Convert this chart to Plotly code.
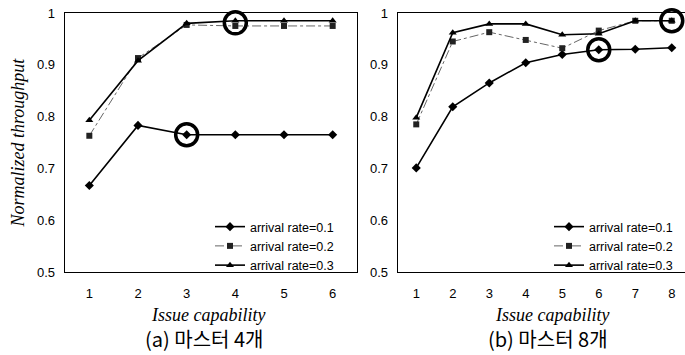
import plotly.graph_objects as go

# ---- data ----
issue_a = [1, 2, 3, 4, 5, 6]
a_rate01 = [0.667, 0.783, 0.765, 0.765, 0.765, 0.765]
a_rate02 = [0.763, 0.913, 0.977, 0.975, 0.975, 0.975]
a_rate03 = [0.793, 0.908, 0.980, 0.985, 0.985, 0.985]
a_circle_x = [3, 4]
a_circle_y = [0.765, 0.981]

issue_b = [1, 2, 3, 4, 5, 6, 7, 8]
b_rate01 = [0.701, 0.819, 0.865, 0.904, 0.920, 0.929, 0.930, 0.933]
b_rate02 = [0.785, 0.945, 0.963, 0.948, 0.932, 0.966, 0.985, 0.985]
b_rate03 = [0.798, 0.962, 0.979, 0.979, 0.958, 0.960, 0.985, 0.985]
b_circle_x = [6, 8]
b_circle_y = [0.929, 0.985]

series_names = ["arrival rate=0.1", "arrival rate=0.2", "arrival rate=0.3"]
y_ticks = [0.5, 0.6, 0.7, 0.8, 0.9, 1]
y_tick_text = ["0.5", "0.6", "0.7", "0.8", "0.9", "1"]

W, H = 685, 355


def px(x):
    return x / W


def py(y):
    return (H - y) / H


styles = [
    dict(symbol="diamond", size=7, color="black", line=dict(color="black", width=1.6, dash="solid")),
    dict(symbol="square", size=6, color="#222", line=dict(color="#666", width=1, dash="dashdot")),
    dict(symbol="triangle-up", size=7, color="black", line=dict(color="black", width=1.6, dash="solid")),
]

fig = go.Figure()


def add_panel(xs, ys_list, cx, cy, xa, ya, legend):
    for name, ys, st in zip(series_names, ys_list, styles):
        fig.add_trace(go.Scatter(
            x=xs, y=ys, mode="lines+markers", name=name,
            line=st["line"],
            marker=dict(symbol=st["symbol"], size=st["size"], color=st["color"]),
            xaxis=xa, yaxis=ya, legend=legend, hoverinfo="skip",
        ))
    fig.add_trace(go.Scatter(
        x=cx, y=cy, mode="markers", showlegend=False, cliponaxis=False, hoverinfo="skip",
        marker=dict(symbol="circle-open", size=22, color="black", line=dict(width=3.5, color="black")),
        xaxis=xa, yaxis=ya,
    ))


add_panel(issue_a, [a_rate01, a_rate02, a_rate03], a_circle_x, a_circle_y, "x", "y", "legend")
add_panel(issue_b, [b_rate01, b_rate02, b_rate03], b_circle_x, b_circle_y, "x2", "y2", "legend2")

ydom = [py(272), py(13)]
tickfont = dict(family="Liberation Sans, Arial", size=13, color="black")
common_y = dict(range=[0.5, 1.0], tickvals=y_ticks, ticktext=y_tick_text, showgrid=False,
                zeroline=False, showline=True, linecolor="black", linewidth=1.3,
                ticks="", tickfont=tickfont, ticklabelstandoff=6, ticklabeloverflow="allow",
                automargin=False, domain=ydom)
common_x = dict(showgrid=False, zeroline=False, showline=True, linecolor="black", linewidth=1.3,
                ticks="", tickfont=tickfont, ticklabelstandoff=9, automargin=False)

legend_common = dict(font=dict(family="Liberation Sans, Arial", size=12.5, color="black"),
                     bgcolor="rgba(0,0,0,0)", borderwidth=0, tracegroupgap=0,
                     xanchor="left", yanchor="middle", itemwidth=30)

right_span = 36.5  # px per unit on the right panel
x2_max = 0.5 + (W - 398) / right_span

title_font = dict(family="Liberation Serif, serif", size=18, color="black", style="italic")
cap_font = dict(family="Noto Sans CJK KR", size=20, color="black")

fig.update_layout(
    width=W, height=H,
    margin=dict(l=0, r=0, t=0, b=0, autoexpand=False),
    paper_bgcolor="white", plot_bgcolor="white",
    hovermode=False,
    xaxis=dict(**common_x, range=[0.5, 6.5], tickvals=issue_a, domain=[px(65), px(357)], mirror=True),
    yaxis=dict(**common_y, mirror=True),
    xaxis2=dict(**common_x, range=[0.5, x2_max], tickvals=issue_b, domain=[px(398), 1.0], mirror=True, anchor="y2"),
    yaxis2=dict(**common_y, anchor="x2"),
    legend=dict(**legend_common, x=px(210), y=py(246)),
    legend2=dict(**legend_common, x=px(549), y=py(246)),
    annotations=[
        dict(text="Normalized throughput", x=px(17.5), y=py(143), xref="paper", yref="paper",
             xanchor="center", yanchor="middle", textangle=-90, showarrow=False,
             font=dict(family="Liberation Serif, serif", size=18, color="black", style="italic")),
        dict(text="Issue capability", x=px(208), y=py(315), xref="paper", yref="paper",
             xanchor="center", yanchor="middle", showarrow=False, font=title_font),
        dict(text="Issue capability", x=px(552), y=py(315), xref="paper", yref="paper",
             xanchor="center", yanchor="middle", showarrow=False, font=title_font),
        dict(text="(a) 마스터 4개", x=px(204), y=py(338), xref="paper", yref="paper",
             xanchor="center", yanchor="middle", showarrow=False, font=cap_font),
        dict(text="(b) 마스터 8개", x=px(548), y=py(338), xref="paper", yref="paper",
             xanchor="center", yanchor="middle", showarrow=False, font=cap_font),
    ],
)

# remove the browser's default 8px body margin so the figure fills the window exactly
fig.write_html(
    "out.html",
    config={"displayModeBar": False, "staticPlot": True},
    post_script="document.body.style.margin='0';document.body.style.overflow='hidden';",
)
